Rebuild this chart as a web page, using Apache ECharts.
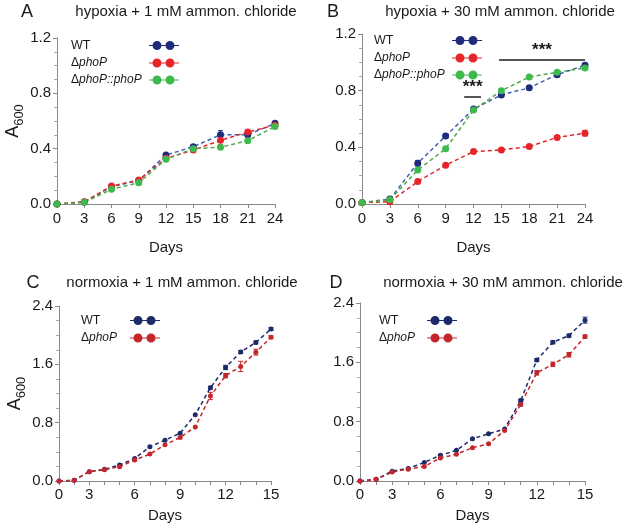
<!DOCTYPE html>
<html><head><meta charset="utf-8">
<script src="https://cdn.jsdelivr.net/npm/echarts@6/dist/echarts.min.js"></script>
<style>html,body{margin:0;padding:0;background:#fff}#c{width:625px;height:524px}</style>
</head><body><div id="c"></div>
<script>
// ---- data ----
const daysAB = [0, 3, 6, 9, 12, 15, 18, 21, 24];
const A_WT   = [0, 0.014, 0.125, 0.17, 0.354, 0.414, 0.50, 0.50, 0.583];
const A_KO   = [0, 0.017, 0.13, 0.173, 0.33, 0.39, 0.46, 0.52, 0.57];
const A_COMP = [0, 0.012, 0.106, 0.154, 0.323, 0.40, 0.41, 0.458, 0.56];
const A_WT_ERR   = [0, 0.005, 0.01, 0.01, 0.01, 0.01, 0.03, 0.015, 0.01];
const A_KO_ERR   = [0, 0.005, 0.01, 0.01, 0.01, 0.01, 0.03, 0.015, 0.01];
const A_COMP_ERR = [0, 0.005, 0.01, 0.01, 0.01, 0.01, 0.01, 0.01, 0.01];

const B_WT   = [0.01, 0.035, 0.288, 0.48, 0.67, 0.77, 0.82, 0.913, 0.98];
const B_KO   = [0.01, 0.016, 0.158, 0.274, 0.37, 0.382, 0.406, 0.47, 0.50];
const B_COMP = [0.01, 0.03, 0.24, 0.39, 0.663, 0.80, 0.896, 0.93, 0.96];
const B_WT_ERR   = [0, 0.01, 0.02, 0.015, 0.01, 0.01, 0.01, 0.01, 0.015];
const B_KO_ERR   = [0, 0.005, 0.01, 0.01, 0.01, 0.01, 0.01, 0.01, 0.02];
const B_COMP_ERR = [0, 0.005, 0.01, 0.01, 0.01, 0.01, 0.01, 0.01, 0.01];

const daysCD = ['0','1.5','3','4','5','6','7','8','9','10','11','12','13','14','15'];
const C_WT = [0, 0.01, 0.128, 0.16, 0.22, 0.31, 0.47, 0.56, 0.656, 0.91, 1.28, 1.557, 1.77, 1.90, 2.085];
const C_KO = [0, 0.01, 0.128, 0.155, 0.196, 0.287, 0.369, 0.496, 0.597, 0.742, 1.166, 1.444, 1.571, 1.767, 1.972];
const C_WT_ERR = [0, 0, 0, 0, 0, 0, 0, 0, 0, 0, 0.02, 0.03, 0.02, 0.02, 0.02];
const C_KO_ERR = [0, 0, 0, 0, 0, 0, 0, 0, 0, 0, 0.05, 0.03, 0.07, 0.04, 0.02];
const D_WT = [0, 0.022, 0.133, 0.169, 0.249, 0.347, 0.413, 0.569, 0.636, 0.702, 1.084, 1.631, 1.871, 1.96, 2.169];
const D_KO = [0, 0.022, 0.12, 0.16, 0.196, 0.311, 0.36, 0.449, 0.502, 0.68, 1.031, 1.458, 1.573, 1.702, 1.947];
const D_WT_ERR = [0, 0, 0, 0, 0, 0, 0, 0, 0, 0, 0.02, 0.02, 0.02, 0.02, 0.04];
const D_KO_ERR = [0, 0, 0, 0, 0, 0, 0, 0, 0, 0, 0.02, 0.03, 0.03, 0.03, 0.02];

const yTicksAB = [0, 0.4, 0.8, 1.2];
const yTicksCD = [0, 0.8, 1.6, 2.4];
const xLabelsCD = ['0','3','6','9','12','15'];

const panelTitles = ['hypoxia + 1 mM ammon. chloride','hypoxia + 30 mM ammon. chloride',
                     'normoxia + 1 mM ammon. chloride','normoxia + 30 mM ammon. chloride'];
const panelLetters = ['A','B','C','D'];

// ---- styles ----
const NAVY = '#1f2b7b', BLUE_LINE = '#3c63b5', RED = '#e5252a', GREEN = '#3dba4c', GREEN_LINE = '#52a84a';
const DRED = '#c4262c', DNAVY = '#1c2a6a';
const FONT = 'Liberation Sans, Arial, sans-serif';

const ICON = 'path://M0,4.4L3.5,4.4L3.5,5.6L0,5.6Z M12.5,4.4L16.5,4.4L16.5,5.6L12.5,5.6Z M25.5,4.4L30,4.4L30,5.6L25.5,5.6Z ' +
             'M3.5,5a4.5,4.5 0 1,1 9,0a4.5,4.5 0 1,1 -9,0Z M16.5,5a4.5,4.5 0 1,1 9,0a4.5,4.5 0 1,1 -9,0Z';

const grids = [
  {left: 57, top: 38, width: 218, height: 166},
  {left: 362, top: 34, width: 223, height: 170},
  {left: 59, top: 306, width: 212, height: 176},
  {left: 360, top: 303, width: 225, height: 180}
];

function yAxis(gi, ticks, showName) {
  const step = ticks[1] - ticks[0];
  return {
    type: 'value', gridIndex: gi, min: ticks[0], max: ticks[ticks.length - 1], interval: step,
    axisLine: {show: true, lineStyle: {color: '#8a8a8a', width: 1}},
    axisTick: {show: true, length: 4, lineStyle: {color: '#8a8a8a'}},
    minorTick: {show: true, splitNumber: 4, length: 3, lineStyle: {color: '#aaa'}},
    splitLine: {show: false},
    axisLabel: {color: '#1a1a1a', fontSize: 15, fontFamily: FONT, margin: 6,
      formatter: v => v.toFixed(1)},
    name: showName ? '{a|A}{s|600}' : '',
    nameLocation: 'middle', nameGap: 33, nameRotate: 90,
    nameTextStyle: {rich: {
      a: {fontSize: 18, fontFamily: FONT, color: '#1a1a1a', verticalAlign: 'bottom'},
      s: {fontSize: 13, fontFamily: FONT, color: '#1a1a1a', verticalAlign: 'bottom', padding: [0,0,-4,0]}
    }}
  };
}

function xAxisVal(gi, gap) {
  return {
    type: 'value', gridIndex: gi, min: 0, max: 24, interval: 3,
    axisLine: {show: true, onZero: false, lineStyle: {color: '#8a8a8a'}},
    axisTick: {show: true, length: 4, lineStyle: {color: '#8a8a8a'}},
    splitLine: {show: false},
    axisLabel: {color: '#1a1a1a', fontSize: 15, fontFamily: FONT, margin: 7},
    name: 'Days', nameLocation: 'middle', nameGap: gap,
    nameTextStyle: {color: '#1a1a1a', fontSize: 15, fontFamily: FONT}
  };
}

function xAxisCat(gi, gap) {
  return {
    type: 'category', gridIndex: gi, data: daysCD, boundaryGap: false,
    axisLine: {show: true, onZero: false, lineStyle: {color: '#8a8a8a'}},
    axisTick: {show: true, interval: 0, length: 4, lineStyle: {color: '#8a8a8a'}},
    splitLine: {show: false},
    axisLabel: {color: '#1a1a1a', fontSize: 15, fontFamily: FONT, margin: 6,
      interval: (i, v) => xLabelsCD.indexOf(v) >= 0},
    name: 'Days', nameLocation: 'middle', nameGap: gap,
    nameTextStyle: {color: '#1a1a1a', fontSize: 15, fontFamily: FONT}
  };
}

function lineSeries(name, gi, xs, ys, markerColor, lineColor, size) {
  return {
    type: 'line', name: name, xAxisIndex: gi, yAxisIndex: gi,
    data: ys.map((y, i) => [xs ? xs[i] : i, y]),
    symbol: 'circle', symbolSize: size, showSymbol: true,
    itemStyle: {color: markerColor},
    lineStyle: {color: lineColor, width: 1.5, type: [4, 3]},
    emphasis: {disabled: true}, animation: false
  };
}

function errSeries(gi, xs, ys, errs, color) {
  return {
    type: 'custom', xAxisIndex: gi, yAxisIndex: gi, silent: true, animation: false,
    data: ys.map((y, i) => [xs ? xs[i] : i, y, errs[i]]),
    renderItem: (params, api) => {
      const e = api.value(2);
      if (!e) return null;
      const x = api.value(0), y = api.value(1);
      const top = api.coord([x, y + e]), bot = api.coord([x, y - e]);
      const st = {stroke: color, lineWidth: 1};
      return {type: 'group', children: [
        {type: 'line', shape: {x1: top[0], y1: top[1], x2: bot[0], y2: bot[1]}, style: st},
        {type: 'line', shape: {x1: top[0]-2.5, y1: top[1], x2: top[0]+2.5, y2: top[1]}, style: st},
        {type: 'line', shape: {x1: bot[0]-2.5, y1: bot[1], x2: bot[0]+2.5, y2: bot[1]}, style: st}
      ]};
    },
    z: 1
  };
}

const legendNames = {WT_A:'WT', KO_A:'Δ|phoP', COMP_A:'Δ|phoP::phoP', WT_C:'WT', KO_C:'Δ|phoP'};
function legend(left, top, data, textW, gap) {
  const DW = 8;
  return {
    left: left, top: top, orient: 'vertical', align: 'right', icon: ICON,
    itemWidth: 30, itemHeight: 9, itemGap: gap, selectedMode: false, data: data,
    formatter: n => {
      const p = legendNames[n].split('|');
      return p.length === 1 ? '{w|' + p[0] + '}' : '{d|' + p[0] + '}{i|' + p[1] + '}';
    },
    textStyle: {color: '#1a1a1a', fontFamily: FONT, fontSize: 12,
      rich: {w: {width: textW, align: 'left', fontSize: 12.5, fontFamily: FONT, color: '#1a1a1a'},
             d: {width: DW, align: 'left', fontSize: 12, fontFamily: FONT, color: '#1a1a1a'},
             i: {width: textW - DW, align: 'left', fontSize: 12, fontFamily: FONT, fontStyle: 'italic', color: '#1a1a1a'}}}
  };
}

const series = [
  errSeries(0, daysAB, A_WT, A_WT_ERR, NAVY),
  errSeries(0, daysAB, A_KO, A_KO_ERR, RED),
  errSeries(0, daysAB, A_COMP, A_COMP_ERR, GREEN),
  lineSeries('WT_A', 0, daysAB, A_WT, NAVY, BLUE_LINE, 7),
  lineSeries('KO_A', 0, daysAB, A_KO, RED, RED, 7),
  lineSeries('COMP_A', 0, daysAB, A_COMP, GREEN, GREEN_LINE, 7),

  errSeries(1, daysAB, B_WT, B_WT_ERR, NAVY),
  errSeries(1, daysAB, B_KO, B_KO_ERR, RED),
  errSeries(1, daysAB, B_COMP, B_COMP_ERR, GREEN),
  lineSeries('WT_A', 1, daysAB, B_WT, NAVY, BLUE_LINE, 7),
  Object.assign(lineSeries('KO_A', 1, daysAB, B_KO, RED, RED, 7), {
    markLine: {
      silent: true, symbol: 'none', animation: false,
      lineStyle: {color: '#555', width: 2, type: 'solid'},
      label: {show: true, position: 'middle', formatter: '***', color: '#1a1a1a',
              fontSize: 17, fontWeight: 'bold', fontFamily: FONT, distance: 1},
      data: [
        [{coord: [11, 0.757]}, {coord: [12.8, 0.757]}],
        [{coord: [14.75, 1.016]}, {coord: [24, 1.016]}]
      ]
    }
  }),
  lineSeries('COMP_A', 1, daysAB, B_COMP, GREEN, GREEN_LINE, 7),

  errSeries(2, null, C_WT, C_WT_ERR, DNAVY),
  errSeries(2, null, C_KO, C_KO_ERR, DRED),
  lineSeries('WT_C', 2, null, C_WT, DNAVY, DNAVY, 5),
  lineSeries('KO_C', 2, null, C_KO, DRED, DRED, 5),

  errSeries(3, null, D_WT, D_WT_ERR, DNAVY),
  errSeries(3, null, D_KO, D_KO_ERR, DRED),
  lineSeries('WT_C', 3, null, D_WT, DNAVY, DNAVY, 5),
  lineSeries('KO_C', 3, null, D_KO, DRED, DRED, 5)
];

const titlePos = [[186, 12], [500, 12], [182, 283], [503, 283]];
const letterPos = [[27, 12], [333, 12], [33, 283], [336, 283]];
const graphic = [];
for (let i = 0; i < 4; i++) {
  graphic.push({type: 'text', x: titlePos[i][0], y: titlePos[i][1],
    style: {text: panelTitles[i], fill: '#1a1a1a', font: '15px ' + FONT, textAlign: 'center', textVerticalAlign: 'middle'}});
  graphic.push({type: 'text', x: letterPos[i][0], y: letterPos[i][1],
    style: {text: panelLetters[i], fill: '#1a1a1a', font: '18px ' + FONT, textAlign: 'center', textVerticalAlign: 'middle'}});
}

const option = {
  backgroundColor: '#fff',
  animation: false,
  grid: grids,
  xAxis: [xAxisVal(0, 36), xAxisVal(1, 36), xAxisCat(2, 27), xAxisCat(3, 27)],
  yAxis: [yAxis(0, yTicksAB, true), yAxis(1, yTicksAB, false), yAxis(2, yTicksCD, true), yAxis(3, yTicksCD, false)],
  legend: [
    legend(66, 34, ['WT_A', 'KO_A', 'COMP_A'], 73, 5),
    legend(369, 29, ['WT_A', 'KO_A', 'COMP_A'], 73, 5),
    legend(76, 309, ['WT_C', 'KO_C'], 44, 5),
    legend(374, 309, ['WT_C', 'KO_C'], 43, 5)
  ],
  graphic: graphic,
  series: series
};
echarts.init(document.getElementById('c'), null, {renderer: 'canvas'}).setOption(option);
</script>
</body></html>
